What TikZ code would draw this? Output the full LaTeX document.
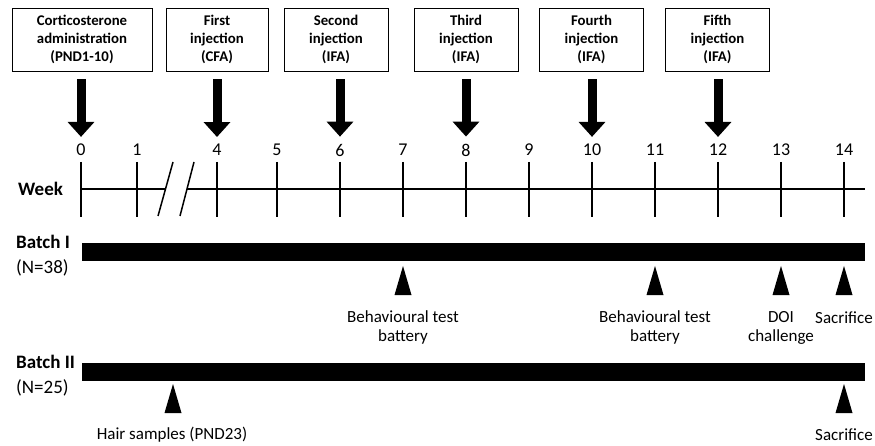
\documentclass[tikz,border=0pt]{standalone}
\usepackage{fontspec}
\setmainfont{Carlito}
\usetikzlibrary{positioning,calc,arrows.meta}

\begin{document}
\begin{tikzpicture}
      [x=1pt,y=-1pt,
       box/.style={draw=black,line width=0.8pt,minimum height=63pt,align=center,inner sep=2pt,font=\fontsize{14.8}{18}\selectfont\bfseries},
       wk/.style={inner sep=0pt,font=\fontsize{18}{20}\selectfont},
       note/.style={inner sep=0pt,align=center,font=\fontsize{17}{19}\selectfont},
       side/.style={inner sep=0pt,anchor=west,font=\fontsize{19}{21}\selectfont},
       inject/.style={line width=9pt,-{Triangle[width=26pt,length=15pt]},shorten <=8pt,shorten >=7pt}]
      \useasboundingbox (0,0) rectangle (875,446);

      % boxes on top
      \node[box,minimum width=140pt] (cort) at (82,39.5) {Corticosterone\\administration\\(PND1-10)};
      \node[box,minimum width=102pt] (inj1) at (217,39.5) {First\\injection\\(CFA)};
      \node[box,minimum width=104pt] (inj2) at (336,39.5) {Second\\injection\\(IFA)};
      \node[box,minimum width=104pt] (inj3) at (466,39.5) {Third\\injection\\(IFA)};
      \node[box,minimum width=104pt] (inj4) at (591.5,39.5) {Fourth\\injection\\(IFA)};
      \node[box,minimum width=104pt] (inj5) at (717.5,39.5) {Fifth\\injection\\(IFA)};

      % week axis
      \foreach \n/\x in {0/81,1/137,4/217,5/277,6/340,7/403,8/466,9/529,10/592,11/655,12/718,13/781,14/844} {
        \node[wk] (w\n) at (\x,150) {\n};
        \draw[line width=2pt] (\x,162) -- (\x,217);
      }
      \draw[line width=1.5pt] (81,189) -- (166,189);
      \draw[line width=1.5pt] (187,189) -- (865,189);
      \draw[line width=1.5pt] (158,216) -- (173,162);
      \draw[line width=1.5pt] (180,216) -- (194,162);
      \node[side,font=\fontsize{19}{21}\selectfont\bfseries] (week) at (18,189) {Week};

      \draw[inject] (cort.south -| w0) -- (w0.north);
      \draw[inject] (inj1.south -| w4) -- (w4.north);
      \draw[inject] (inj2.south -| w6) -- (w6.north);
      \draw[inject] (inj3.south -| w8) -- (w8.north);
      \draw[inject] (inj4.south -| w10) -- (w10.north);
      \draw[inject] (inj5.south -| w12) -- (w12.north);

      % batch I
      \node[side,font=\fontsize{19}{21}\selectfont\bfseries] (b1) at (16,242) {Batch I};
      \node[side] (n1) at (16,268) {(N=38)};
      \fill (82,243) rectangle (865,261);
      \foreach \x in {403,655,781,844}
        \fill (\x-8.5,295) -- (\x,266) -- (\x+8.5,295) -- cycle;
      \node[note] (bt1) at (403,327.5) {Behavioural test\\battery};
      \node[note] (bt2) at (655,327.5) {Behavioural test\\battery};
      \node[note] (doi) at (781,327.5) {DOI\\challenge};
      \node[note] (sac1) at (844,318) {Sacrifice};

      % batch II
      \node[side,font=\fontsize{19}{21}\selectfont\bfseries] (b2) at (16,362) {Batch II};
      \node[side] (n2) at (16,388) {(N=25)};
      \fill (82,363) rectangle (865,381);
      \foreach \x in {173,844}
        \fill (\x-8.5,413) -- (\x,384) -- (\x+8.5,413) -- cycle;
      \node[note] (hair) at (172,435) {Hair samples (PND23)};
      \node[note] (sac2) at (844,435) {Sacrifice};
\end{tikzpicture}
\end{document}
